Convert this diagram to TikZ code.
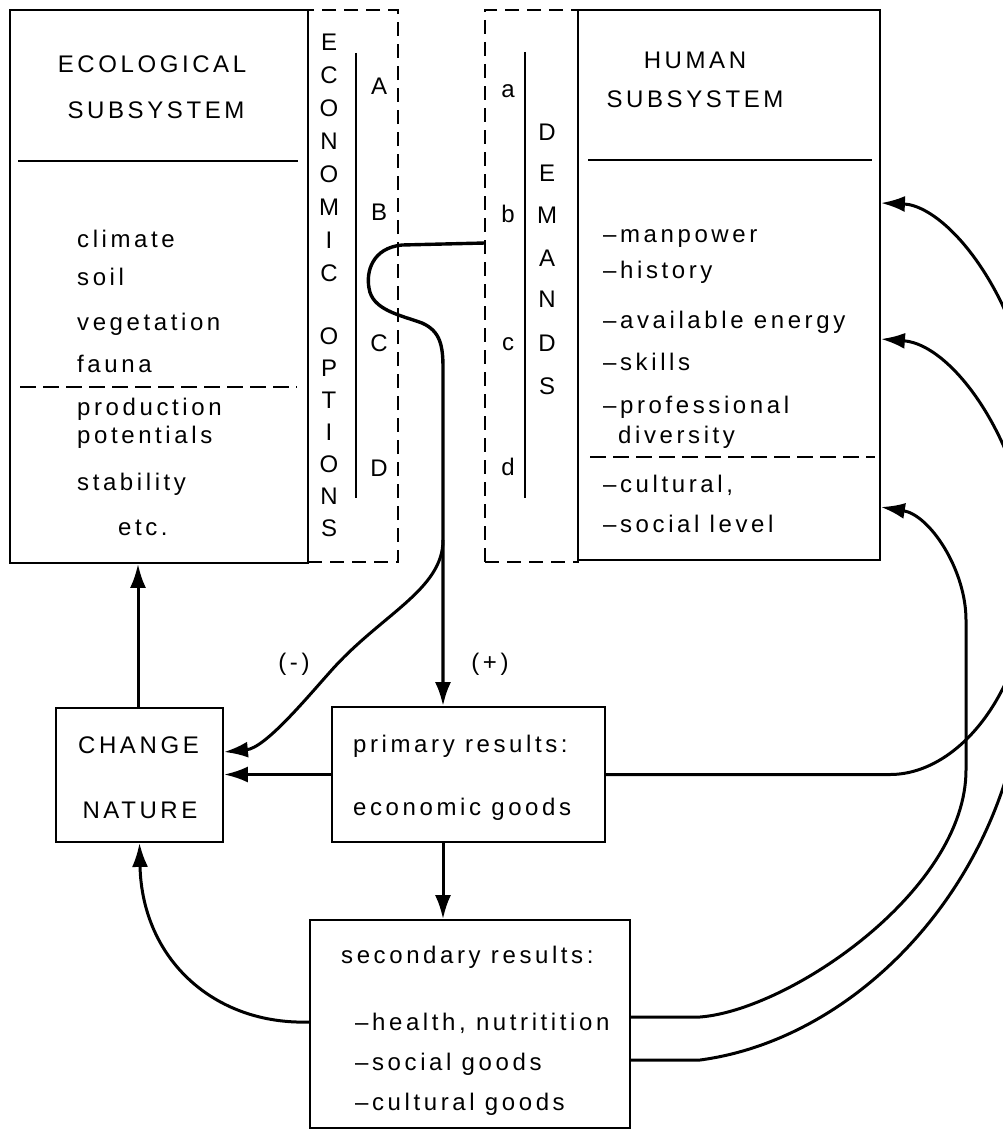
\documentclass[tikz,border=0pt]{standalone}
\usepackage{fontspec}
\newfontfamily\lbl[LetterSpace=15]{Liberation Sans}
\usetikzlibrary{arrows.meta}
\begin{document}
\begin{tikzpicture}[x=1pt,y=-1pt,
  every node/.style={font=\lbl\fontsize{24}{28}\selectfont, inner sep=0pt},
  sbox/.style={draw, line width=1.8pt},
  dbox/.style={draw, line width=2pt, dash pattern=on 14pt off 8pt},
  rule/.style={line width=1.5pt},
  drule/.style={line width=1.6pt, dash pattern=on 16pt off 7pt},
  conn/.style={line width=3pt},
  arr/.style={conn, -{Latex[length=24pt,width=16pt]}},
  tl/.style={anchor=base west},
  tc/.style={anchor=base},
]
\useasboundingbox (0,0) rectangle (1003,1132);
\begin{scope}
\clip (0,0) rectangle (1003,1132);
% column boxes
\node[dbox, minimum width=90pt, minimum height=552pt] (opt) at (353,286) {};
\node[dbox, minimum width=93pt, minimum height=552pt] (dem) at (531.5,286) {};
\node[sbox, minimum width=298pt, minimum height=553pt] (eco) at (159,286.5) {};
\node[sbox, minimum width=302pt, minimum height=550pt] (hum) at (729,285) {};
% inner rules
\draw[rule] (18,161) -- (298,161);
\draw[drule] (20,387) -- (297,387);
\draw[rule] (588,160) -- (872,160);
\draw[drule] (590,457) -- (875,457);
\draw[rule] (356,53) -- (356,498);
\draw[rule] (525,52) -- (525,498);
% ecological texts
\node[tc] (ecoh1) at (152,72) {ECOLOGICAL};
\node[tc] (ecoh2) at (156,118) {SUBSYSTEM};
\node[tl] (e1) at (77,247) {climate};
\node[tl] (e2) at (77,285) {soil};
\node[tl] (e3) at (77,330) {vegetation};
\node[tl] (e4) at (77,372) {fauna};
\node[tl] (e5) at (77,415) {production};
\node[tl] (e6) at (77,443) {potentials};
\node[tl] (e7) at (77,490) {stability};
\node[tl] (e8) at (118,535) {etc.};
% economic options
\node[tc] (o1) at (329,50.5) {E};
\node[tc] (o2) at (329,83.5) {C};
\node[tc] (o3) at (329,116.5) {O};
\node[tc] (o4) at (329,149.5) {N};
\node[tc] (o5) at (329,182.5) {O};
\node[tc] (o6) at (329,215.5) {M};
\node[tc] (o7) at (329,248.5) {I};
\node[tc] (o8) at (329,281.5) {C};
\node[tc] (p1) at (329,344.5) {O};
\node[tc] (p2) at (329,376.5) {P};
\node[tc] (p3) at (329,408.5) {T};
\node[tc] (p4) at (329,440.5) {I};
\node[tc] (p5) at (329,472.5) {O};
\node[tc] (p6) at (329,504.5) {N};
\node[tc] (p7) at (329,536.5) {S};
\node[tc] (oA) at (379,94.5) {A};
\node[tc] (oB) at (379,220.5) {B};
\node[tc] (oC) at (379,351.5) {C};
\node[tc] (oD) at (379,476.5) {D};
% demands
\node[tc] (da) at (508,97) {a};
\node[tc] (db) at (508,222) {b};
\node[tc] (dc) at (508,350) {c};
\node[tc] (dd) at (508,475) {d};
\node[tc] (q1) at (547,140.5) {D};
\node[tc] (q2) at (547,181.5) {E};
\node[tc] (q3) at (547,223.5) {M};
\node[tc] (q4) at (547,266.5) {A};
\node[tc] (q5) at (547,307.5) {N};
\node[tc] (q6) at (547,351.5) {D};
\node[tc] (q7) at (547,394.5) {S};
% human texts
\node[tc] (humh1) at (695,68) {HUMAN};
\node[tc] (humh2) at (695,107) {SUBSYSTEM};
\node[tl] (h1) at (603,242) {–manpower};
\node[tl] (h2) at (603,278) {–history};
\node[tl] (h3) at (603,328) {–available energy};
\node[tl] (h4) at (603,370) {–skills};
\node[tl] (h5) at (603,413) {–professional};
\node[tl] (h6) at (618,443) {diversity};
\node[tl] (h7) at (603,492) {–cultural,};
\node[tl] (h8) at (603,532) {–social level};
% lower boxes
\node[sbox, minimum width=167pt, minimum height=134pt] (change) at (139.5,775) {};
\node[sbox, minimum width=273pt, minimum height=135pt] (prim) at (468.5,774.5) {};
\node[sbox, minimum width=320pt, minimum height=208pt] (sec) at (470,1024) {};
\node[tc] (c1) at (138.5,753) {CHANGE};
\node[tc] (c2) at (140,818) {NATURE};
\node[tl] (r1) at (353,752) {primary results:};
\node[tl] (r2) at (353,815) {economic goods};
\node[tl] (s1) at (341,963) {secondary results:};
\node[tl] (s2) at (355,1030) {–health, nutritition};
\node[tl] (s3) at (355,1070) {–social goods};
\node[tl] (s4) at (355,1110) {–cultural goods};
\node (minus) at (294,664) {(-)};
\node (plus) at (490,664) {(+)};
% connectors
\coordinate (sstart) at (485,243);
\coordinate (pin) at ([xshift=-25.5pt]prim.north);
\coordinate (br) at (443,540);
\draw[arr, line width=3.4pt] (sstart) -- (402,245) .. controls (372,248) and (366,272) .. (369,288)
  .. controls (372,310) and (400,315) .. (422,323)
  .. controls (440,331) and (443,345) .. (443,368) -- (pin);
\draw[arr] (br) .. controls (443,590) and (380,615) .. (330,672)
  .. controls (305,700) and (265,748) .. ([yshift=23pt]change.east);
\draw[arr] (prim.west) -- (prim.west -| change.east);
\draw[arr] ([xshift=-1.5pt]change.north) -- ([xshift=-1.5pt]change.north |- eco.south);
\draw[arr] ([xshift=-25.5pt]prim.south) -- ([xshift=-25.5pt]prim.south |- sec.north);
\draw[arr] ([yshift=2pt]sec.west) .. controls (215,1025) and (142,960) .. (change.south);
\draw[arr] (prim.east) -- (890,774.5) .. controls (955,774.5) and (1020,700) .. (1030,590)
  .. controls (1040,470) and (960,345) .. ([yshift=-54pt]hum.east);
\draw[arr] ([yshift=7pt]sec.east) -- (700,1017) .. controls (790,1010) and (966,890) .. (966,770)
  -- (966,620) .. controls (966,570) and (930,515) .. ([yshift=-222pt]hum.east);
\draw[arr] ([yshift=-36pt]sec.east) -- (700,1060) .. controls (850,1040) and (990,900) .. (1020,720)
  .. controls (1050,540) and (1040,380) .. (1000,300)
  .. controls (970,240) and (930,205) .. ([yshift=82pt]hum.east);
\end{scope}
\end{tikzpicture}
\end{document}
